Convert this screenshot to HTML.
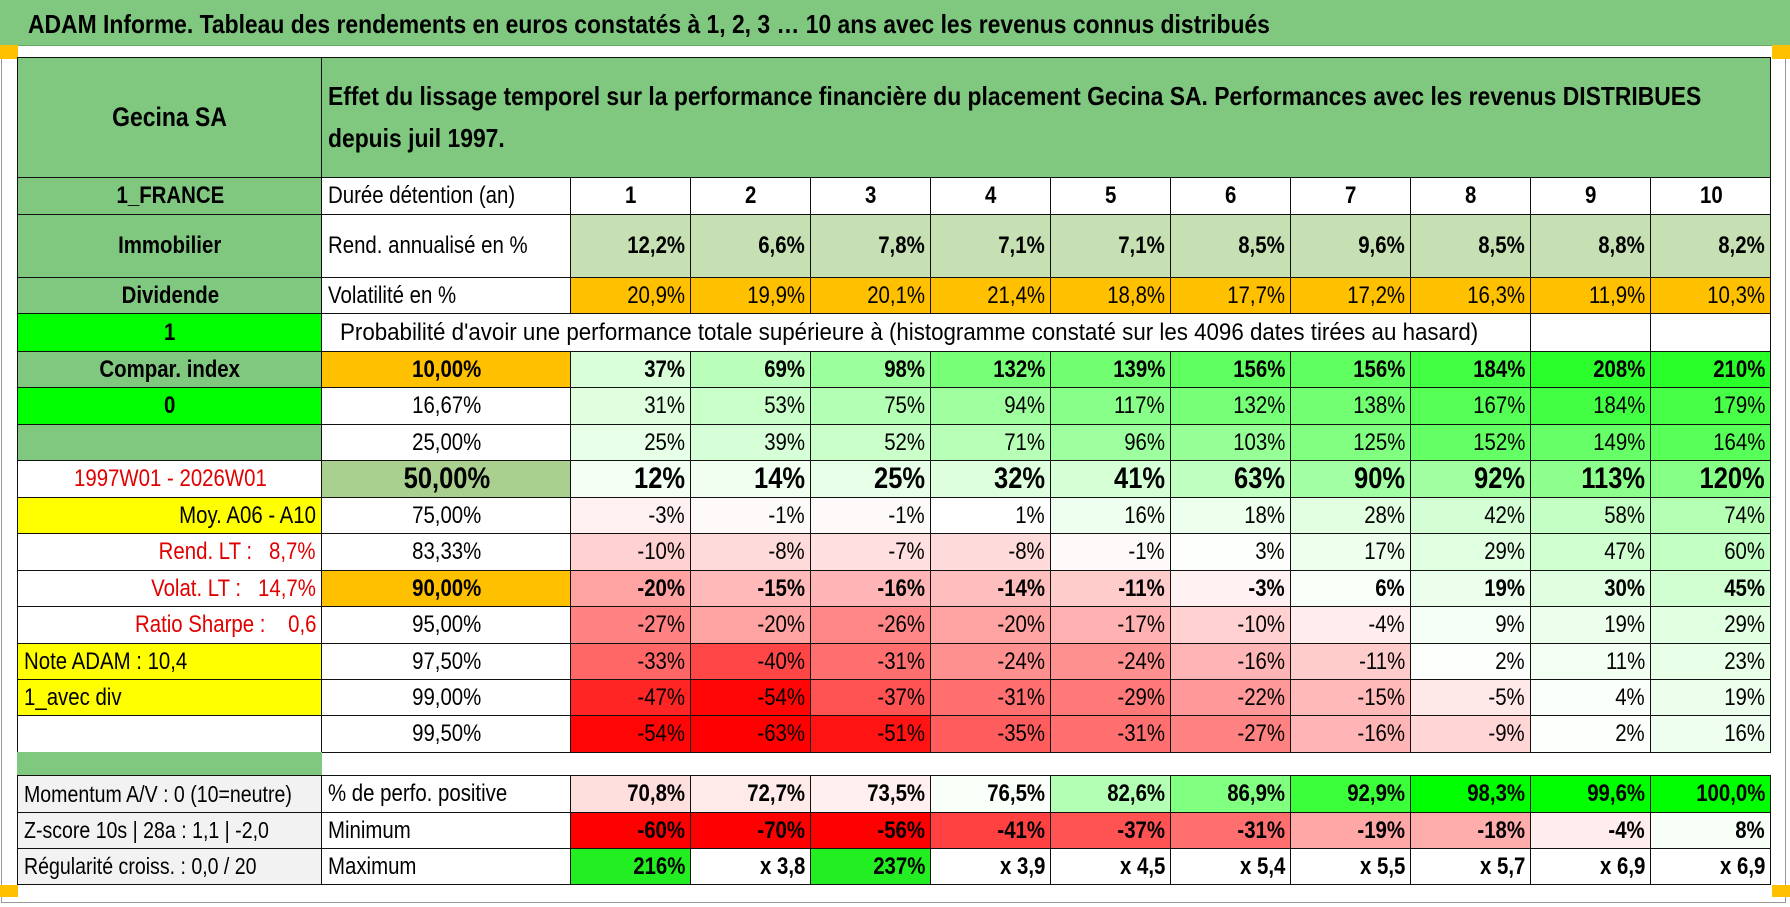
<!DOCTYPE html>
<html><head><meta charset="utf-8">
<style>
html,body{margin:0;padding:0;background:#fff;}
#root{position:relative;width:1790px;height:907px;overflow:hidden;background:#fff;font-family:"Liberation Sans",sans-serif;color:#000;}
.c{position:absolute;box-sizing:border-box;border:1px solid #111;display:flex;align-items:center;padding:0 5px 0 6px;white-space:pre;overflow:hidden;font-size:24px;line-height:1;}
.s{display:inline-block;transform:scaleX(.85);}
.r{justify-content:flex-end;}
.r .s{transform-origin:right center;}
.m{justify-content:center;}
.m .s{transform-origin:center center;}
.l{justify-content:flex-start;}
.l .s{transform-origin:left center;}
.b{font-weight:bold;}
.red{color:#e00000;}
.mark{position:absolute;background:#ffc000;}
</style></head>
<body>
<div id="root">
  <div style="position:absolute;left:0;top:0;width:1790px;height:45px;background:#80c880;border-bottom:1px solid #6aa86a;">
    <div style="position:absolute;left:28px;top:9px;font-size:26px;font-weight:bold;white-space:nowrap;transform:scaleX(.88);transform-origin:left center;">ADAM Informe. Tableau des rendements en euros constatés à 1, 2, 3 … 10 ans avec les revenus connus distribués</div>
  </div>
  <div style="position:absolute;left:1px;top:45px;width:1px;height:858px;background:#999;"></div>
  <div style="position:absolute;left:1785px;top:45px;width:1px;height:858px;background:#999;"></div>
  <div style="position:absolute;left:1px;top:902px;width:1785px;height:1px;background:#999;"></div>
  <div class="mark" style="left:0;top:45px;width:18px;height:14px;"></div>
  <div class="mark" style="left:1772px;top:45px;width:18px;height:14px;"></div>
  <div class="mark" style="left:0;top:885px;width:18px;height:12px;"></div>
  <div class="mark" style="left:1772px;top:885px;width:18px;height:12px;"></div>
</div>
<script>
// ---- data ----
const years = [1,2,3,4,5,6,7,8,9,10];
const rendAnn = [12.2,6.6,7.8,7.1,7.1,8.5,9.6,8.5,8.8,8.2];
const volat = [20.9,19.9,20.1,21.4,18.8,17.7,17.2,16.3,11.9,10.3];
const pctLabels = ["10,00%","16,67%","25,00%","50,00%","75,00%","83,33%","90,00%","95,00%","97,50%","99,00%","99,50%"];
const p10 = [37,69,98,132,139,156,156,184,208,210];
const p1667 = [31,53,75,94,117,132,138,167,184,179];
const p25 = [25,39,52,71,96,103,125,152,149,164];
const p50 = [12,14,25,32,41,63,90,92,113,120];
const p75 = [-3,-1,-1,1,16,18,28,42,58,74];
const p8333 = [-10,-8,-7,-8,-1,3,17,29,47,60];
const p90 = [-20,-15,-16,-14,-11,-3,6,19,30,45];
const p95 = [-27,-20,-26,-20,-17,-10,-4,9,19,29];
const p975 = [-33,-40,-31,-24,-24,-16,-11,2,11,23];
const p99 = [-47,-54,-37,-31,-29,-22,-15,-5,4,19];
const p995 = [-54,-63,-51,-35,-31,-27,-16,-9,2,16];
const posPerf = [70.8,72.7,73.5,76.5,82.6,86.9,92.9,98.3,99.6,100.0];
const minPerf = [-60,-70,-56,-41,-37,-31,-19,-18,-4,8];
const maxPerf = [216,380,237,390,450,540,550,570,690,690];

const root = document.getElementById('root');
const X0 = 18, X1 = 322, X2 = 571, CW = 120;
function colX(i){ return X2 + i*CW; }
function fmt(v,d){ return v.toFixed(d).replace('.',','); }
function mix(t,r,g,b){ t=Math.max(0,Math.min(1,t)); return 'rgb('+Math.round(255+(r-255)*t)+','+Math.round(255+(g-255)*t)+','+Math.round(255+(b-255)*t)+')'; }
function heat(v){ return v>=0 ? mix(v/250,0,255,0) : mix(-v/55,255,0,0); }
function posHeat(v){ return v>=76 ? mix((v-76)/22,0,255,0) : mix((76-v)/40,255,0,0); }

function cell(x,y,w,h,txt,cls,bg,name){
  const d=document.createElement('div');
  d.className='c '+(cls||'');
  d.style.left=(x-1)+'px'; d.style.top=(y-1)+'px';
  d.style.width=(w+1)+'px'; d.style.height=(h+1)+'px';
  if(bg) d.style.background=bg;
  const s=document.createElement('span');
  s.className='s';
  s.textContent=txt;
  d.appendChild(s);
  
  
  root.appendChild(d);
  return d;
}
const GREEN='#80c880', LG='#c6e0b4', OR='#ffc000', BG='#00ff00', YEL='#ffff00', GR='#f2f2f2';

// header
let h=cell(X0,58,X1-X0,120,'Gecina SA','m b',GREEN,'asset-name');
h.style.fontSize='27px';
h=cell(X1,58,1771-X1,120,'','l b',GREEN,'table-heading');
h.innerHTML='';
h.style.fontSize='26px'; h.style.display='block'; h.style.paddingTop='17px';
['Effet du lissage temporel sur la performance financière du placement Gecina SA. Performances avec les revenus DISTRIBUES','depuis juil 1997.'].forEach(t=>{
  const ln=document.createElement('div');
  ln.textContent=t;
  ln.style.cssText='transform:scaleX(.88);transform-origin:left center;height:42px;line-height:42px;white-space:nowrap;';
  
  
  h.appendChild(ln);
});

// row 0: years
cell(X0,178,X1-X0,37,'1_FRANCE','m b',GREEN,'country-label');
cell(X1,178,X2-X1,37,'Durée détention (an)','l',null,'holding-period-label');
years.forEach((v,i)=>{ cell(colX(i),178,CW,37,String(v),'m b',null,'year-header'); });
// rend
cell(X0,215,X1-X0,63,'Immobilier','m b',GREEN,'sector-label');
cell(X1,215,X2-X1,63,'Rend. annualisé en %','l',null,'annual-return-label');
rendAnn.forEach((v,i)=>{ cell(colX(i),215,CW,63,fmt(v,1)+'%','r b',LG,'annual-return-value'); });
// vol
cell(X0,278,X1-X0,36,'Dividende','m b',GREEN,'dividend-label');
cell(X1,278,X2-X1,36,'Volatilité en %','l',null,'volatility-label');
volat.forEach((v,i)=>{ cell(colX(i),278,CW,36,fmt(v,1)+'%','r',OR,'volatility-value'); });
// prob row
cell(X0,314,X1-X0,38,'1','m b',BG,'flag-one');
h=cell(X1,314,colX(8)-X1,38,"Probabilité d'avoir une performance totale supérieure à (histogramme constaté sur les 4096 dates tirées au hasard)",'l',null,'probability-caption');
h.style.paddingLeft='18px'; h.style.borderRight='none';
h.firstChild.style.transform='scaleX(.93)';
cell(colX(8),314,CW,38,'','',null,'empty-cell');
cell(colX(9),314,CW,38,'','',null,'empty-cell');

// left column labels for percentile rows
const leftLab=[['Compar. index','m b',GREEN],['0','m b',BG],['','m',GREEN],['1997W01 - 2026W01','m red',null],['Moy. A06 - A10','r',YEL],['Rend. LT :   8,7%','r red',null],['Volat. LT :   14,7%','r red',null],['Ratio Sharpe :    0,6','r red',null],['Note ADAM : 10,4','l',YEL],['1_avec div','l',YEL],['','l',null]];
const pctSeries=[p10,p1667,p25,p50,p75,p8333,p90,p95,p975,p99,p995];
const boldRows=[0,3,6];
const pctBg=[OR,null,null,'#a9d08e',null,null,OR,null,null,null,null];
let y=352;
const rh=[36,37,36,37,36,37,36,37,36,36,37];
pctSeries.forEach((arr,r)=>{
  const H=rh[r];
  const lab=leftLab[r];
  cell(X0,y,X1-X0,H,lab[0],lab[1],lab[2],'left-info-label');
  const pc=cell(X1,y,X2-X1,H,pctLabels[r],'m'+(boldRows.includes(r)?' b':''),pctBg[r],'percentile-label');
  if(r===3){ pc.style.fontSize='30px'; }
  arr.forEach((v,i)=>{
    const d=cell(colX(i),y,CW,H,v+'%','r'+(boldRows.includes(r)?' b':''),heat(v),'percentile-value');
    if(r===3){ d.style.fontSize='30px'; }
  });
  y+=H;
});
// gap row
h=cell(X0,753,X1-X0,23,'','',GREEN,'spacer-row');
h.style.border='none';
// bottom rows
const botLeft=['Momentum A/V : 0 (10=neutre)','Z-score 10s | 28a : 1,1 | -2,0','Régularité croiss. : 0,0 / 20'];
const botLab=['% de perfo. positive','Minimum','Maximum'];
const by=[776,813,849], bh=[37,36,36];
botLeft.forEach((t,r)=>{
  const d=cell(X0,by[r],X1-X0,bh[r],t,'l',GR,'stat-label');
  d.style.fontSize='23px';
  cell(X1,by[r],X2-X1,bh[r],botLab[r],'l',null,'stat-row-label');
});
posPerf.forEach((v,i)=>{ cell(colX(i),776,CW,37,fmt(v,1)+'%','r b',posHeat(v),'positive-share-value'); });
minPerf.forEach((v,i)=>{ cell(colX(i),813,CW,36,v+'%','r b',heat(v),'minimum-value'); });
maxPerf.forEach((v,i)=>{
  const txt = v<300 ? v+'%' : 'x '+fmt(v/100,1);
  cell(colX(i),849,CW,36,txt,'r b',v<300?'#22ee22':null,'maximum-value');
});
</script>
</body></html>
